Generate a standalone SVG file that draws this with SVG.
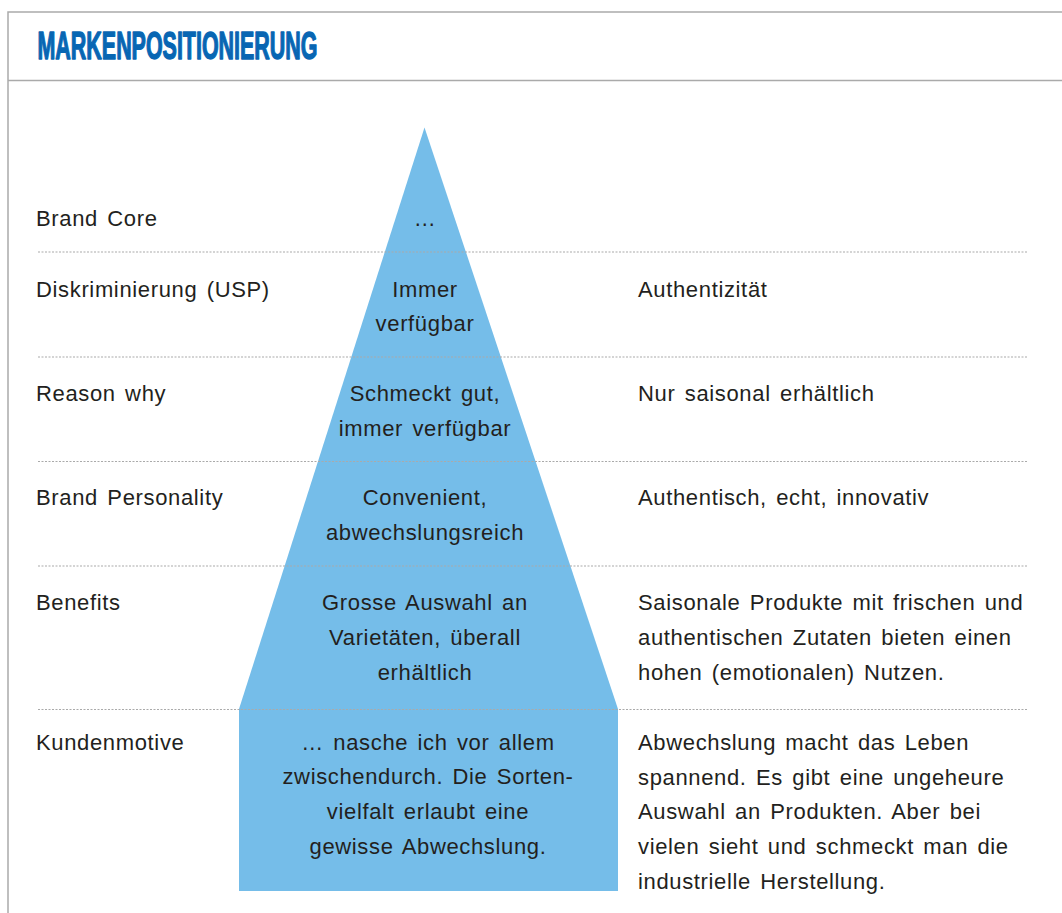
<svg xmlns="http://www.w3.org/2000/svg" width="1062" height="913" viewBox="0 0 1062 913">
<style>
.t{font-family:"Liberation Sans",Arial,sans-serif;font-size:22px;fill:#231f20;letter-spacing:0.65px;word-spacing:2.6px}
.c{text-anchor:middle}
.dot{stroke:#aaaaaa;stroke-width:1.2;stroke-dasharray:2 1.5;fill:none}
.frame{stroke:#aaaaaa;stroke-width:1.5;fill:none}
</style>
<rect width="1062" height="913" fill="#ffffff"/>
<g id="frame">
<path class="frame" d="M8,913 V12 H1062"/>
<line class="frame" x1="8" y1="80.5" x2="1062" y2="80.5"/>
<text x="37.5" y="59" font-family="Liberation Sans,Arial,sans-serif" font-weight="bold" font-size="38" fill="#0866b3" stroke="#0866b3" stroke-width="1.4" stroke-linejoin="round" textLength="280" lengthAdjust="spacingAndGlyphs">MARKENPOSITIONIERUNG</text>
</g>
<g id="pyramid">
<path d="M424.5,127.5 L618,709 V891 H239 V709 Z" fill="#75bde9"/>
</g>
<g id="connectors">
<line class="dot" x1="38" y1="252" x2="1028" y2="252"/>
<line class="dot" x1="38" y1="357" x2="1028" y2="357"/>
<line class="dot" x1="38" y1="461.5" x2="1028" y2="461.5"/>
<line class="dot" x1="38" y1="566" x2="1028" y2="566"/>
<line class="dot" x1="38" y1="709.5" x2="1028" y2="709.5"/>
</g>
<g id="row-brand-core">
<text class="t" x="36" y="226">Brand Core</text>
<text class="t c" x="425" y="226">…</text>
</g>
<g id="row-usp">
<text class="t" x="36" y="297">Diskriminierung (USP)</text>
<text class="t c" x="425" y="297">Immer</text>
<text class="t c" x="425" y="331">verfügbar</text>
<text class="t" x="638" y="297">Authentizität</text>
</g>
<g id="row-reason">
<text class="t" x="36" y="401">Reason why</text>
<text class="t c" x="425" y="401">Schmeckt gut,</text>
<text class="t c" x="425" y="436">immer verfügbar</text>
<text class="t" x="638" y="401">Nur saisonal erhältlich</text>
</g>
<g id="row-personality">
<text class="t" x="36" y="505">Brand Personality</text>
<text class="t c" x="425" y="505">Convenient,</text>
<text class="t c" x="425" y="540">abwechslungsreich</text>
<text class="t" x="638" y="505">Authentisch, echt, innovativ</text>
</g>
<g id="row-benefits">
<text class="t" x="36" y="610">Benefits</text>
<text class="t c" x="425" y="610">Grosse Auswahl an</text>
<text class="t c" x="425" y="645">Varietäten, überall</text>
<text class="t c" x="425" y="680">erhältlich</text>
<text class="t" x="638" y="610">Saisonale Produkte mit frischen und</text>
<text class="t" x="638" y="645">authentischen Zutaten bieten einen</text>
<text class="t" x="638" y="680">hohen (emotionalen) Nutzen.</text>
</g>
<g id="row-kundenmotive">
<text class="t" x="36" y="750">Kundenmotive</text>
<text class="t c" x="428" y="750">… nasche ich vor allem</text>
<text class="t c" x="428" y="784">zwischendurch. Die Sorten-</text>
<text class="t c" x="428" y="819">vielfalt erlaubt eine</text>
<text class="t c" x="428" y="854">gewisse Abwechslung.</text>
<text class="t" x="638" y="750">Abwechslung macht das Leben</text>
<text class="t" x="638" y="785">spannend. Es gibt eine ungeheure</text>
<text class="t" x="638" y="819">Auswahl an Produkten. Aber bei</text>
<text class="t" x="638" y="854">vielen sieht und schmeckt man die</text>
<text class="t" x="638" y="889">industrielle Herstellung.</text>
</g>
</svg>
